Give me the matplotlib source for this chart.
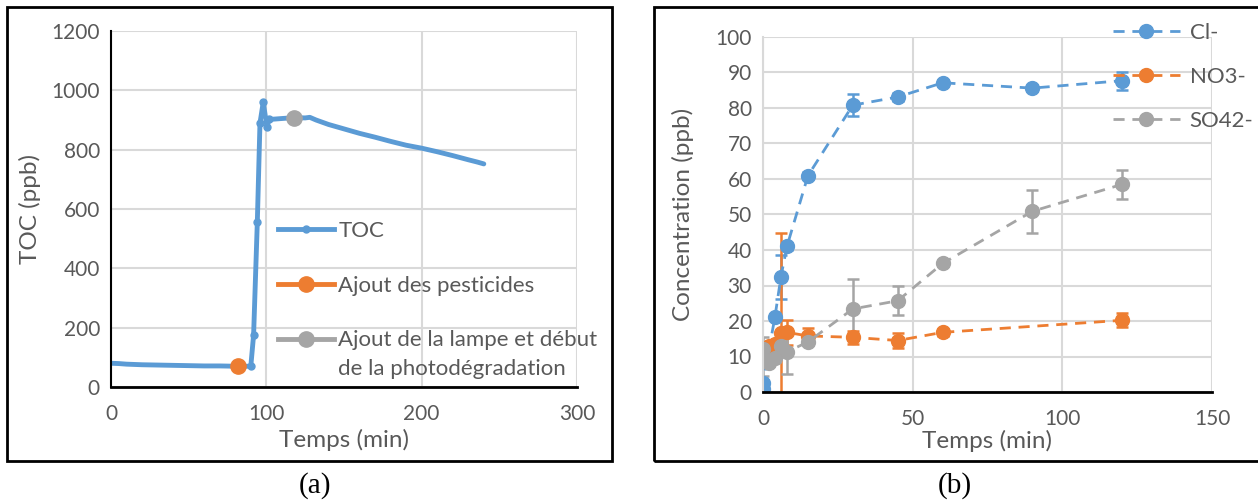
import matplotlib
matplotlib.use("Agg")
import matplotlib.pyplot as plt
from matplotlib.patches import Rectangle
from matplotlib.lines import Line2D

plt.rcParams['font.family'] = ['Lato', 'DejaVu Sans']

# TOC data (min, ppb) -------------------------------------------------------
toc_time = [0, 5, 10, 20, 30, 40, 50, 60, 70, 80, 86, 90, 91.8, 94.2, 95.9, 98,
            100.4, 101.7, 105, 110, 118, 125, 128, 132, 140, 150, 160, 170, 180,
            190, 200, 210, 220, 230, 236, 240]
toc_value = [80, 79, 77, 75, 74, 73, 72, 71, 71, 70, 70, 70, 175, 557, 889, 960,
             877, 902, 903, 905, 908, 907, 909, 900, 885, 870, 855, 842, 828,
             815, 805, 793, 780, 766, 758, 752]
pest_time, pest_value = [82], [70]
lamp_time, lamp_value = [118], [908]

# Ion data (min, ppb) -------------------------------------------------------
cl_time = [0, 0, 4, 6, 8, 15, 30, 45, 60, 90, 120]
cl_value = [0.8, 2.6, 21.2, 32.5, 41.0, 60.9, 80.8, 83.1, 87.1, 85.6, 87.7]
cl_err = [0.5, 0.5, 0.8, 6.2, 1.0, 1.0, 3.1, 1.0, 0.8, 0.8, 2.5]

no3_time = [0, 2, 4, 6, 8, 15, 30, 45, 60, 120]
no3_value = [12.0, 13.0, 13.5, 16.5, 16.8, 15.8, 15.4, 14.5, 16.8, 20.2]
no3_err = [1.0, 1.0, 1.0, 28.2, 3.5, 2.3, 1.8, 2.1, 1.0, 2.0]

so4_time = [0, 0, 2, 4, 6, 8, 15, 30, 45, 60, 90, 120]
so4_value = [12.0, 9.9, 8.2, 9.5, 12.9, 11.3, 14.1, 23.4, 25.7, 36.2, 50.9, 58.5]
so4_err = [1.0, 5.5, 1.0, 1.0, 1.0, 6.1, 1.0, 8.4, 4.1, 0.8, 6.0, 4.1]

blue = '#5B9BD5'
orange = '#ED7D31'
gray = '#A5A5A5'
txt = '#595959'
grid_c = '#D9D9D9'
W, H = 1258, 503

fig = plt.figure(figsize=(12.58, 5.03), dpi=100)

# frames round each panel
fig.patches.append(Rectangle((7 / W, 1 - 461 / H), 605 / W, 454 / H,
                             transform=fig.transFigure, fill=False, lw=2, ec='black'))
fig.patches.append(Rectangle((654 / W, 1 - 461 / H), 620 / W, 454 / H,
                             transform=fig.transFigure, fill=False, lw=2, ec='black'))


def style_axes(ax, left_black):
    ax.grid(True, color=grid_c, lw=1.5)
    ax.set_axisbelow(True)
    for s in ['top', 'right']:
        ax.spines[s].set_visible(False)
    ax.spines['bottom'].set_color('black')
    ax.spines['bottom'].set_linewidth(2)
    ax.spines['left'].set_color('black' if left_black else grid_c)
    ax.spines['left'].set_linewidth(1.5)
    ax.tick_params(length=0, labelsize=15, colors=txt, pad=8)
    ax.tick_params(axis='x', pad=12)


# (a) TOC ------------------------------------------------------------------
ax1 = fig.add_axes([111 / W, 1 - 387 / H, 466 / W, 356 / H])
# dense data: dots only show up on the steep part
ax1.plot(toc_time, toc_value, color=blue, lw=3.5, solid_capstyle='round',
         solid_joinstyle='round')
ax1.plot(toc_time[11:18], toc_value[11:18], ls='none', color=blue, marker='o', ms=5)
ax1.plot(pest_time, pest_value, color=orange, ls='none', marker='o', ms=11, zorder=5)
ax1.plot(lamp_time, lamp_value, color=gray, ls='none', marker='o', ms=11, zorder=5)
ax1.set_xlim(0, 300)
ax1.set_ylim(0, 1200)
ax1.set_xticks([0, 100, 200, 300])
ax1.set_yticks(range(0, 1201, 200))
style_axes(ax1, True)
ax1.set_xlabel('Temps (min)', fontsize=17.5, color=txt)
ax1.set_ylabel('TOC (ppb)', fontsize=17.5, color=txt)
ax1.xaxis.set_label_coords(0.5, -0.118)
ax1.yaxis.set_label_coords(-0.150, 0.5)

h1 = [Line2D([], [], color=blue, lw=3.5, marker='o', ms=5),
      Line2D([], [], color=orange, lw=3.5, marker='o', ms=11),
      Line2D([], [], color=gray, lw=3.5, marker='o', ms=11)]
ax1.legend(h1, ['TOC', 'Ajout des pesticides', 'Ajout de la lampe et début'],
           loc='upper left', bbox_to_anchor=(278 / W, 1 - 221 / H),
           bbox_transform=fig.transFigure, frameon=False, fontsize=16,
           handlelength=2.5, handletextpad=0.22, labelspacing=1.56,
           borderpad=0, borderaxespad=0, labelcolor=txt)
fig.text(338 / W, 1 - 369 / H, 'de la photodégradation', fontsize=16,
         color=txt, ha='left', va='center')

# (b) ions -----------------------------------------------------------------
ax2 = fig.add_axes([763 / W, 1 - 392 / H, 449 / W, 355 / H])
ebkw = dict(lw=2, ls=(0, (4, 2.8)), marker='o', ms=10, elinewidth=1.8,
            capsize=4.5, capthick=1.8)
ax2.errorbar(cl_time, cl_value, yerr=cl_err, color=blue, **ebkw)
ax2.errorbar(no3_time, no3_value, yerr=no3_err, color=orange, **ebkw)
ax2.errorbar(so4_time, so4_value, yerr=so4_err, color=gray, **ebkw)
ax2.set_xlim(0, 150)
ax2.set_ylim(0, 100)
ax2.set_xticks([0, 50, 100, 150])
ax2.set_yticks(range(0, 101, 10))
style_axes(ax2, False)
ax2.set_xlabel('Temps (min)', fontsize=17.5, color=txt)
ax2.set_ylabel('Concentration (ppb)', fontsize=17.5, color=txt)
ax2.xaxis.set_label_coords(0.5, -0.107)
ax2.yaxis.set_label_coords(-0.154, 0.5)

h2 = [Line2D([], [], color=c, lw=2, ls=(0, (4, 2.8)), marker='o', ms=10)
      for c in (blue, orange, gray)]
ax2.legend(h2, ['Cl-', 'NO3-', 'SO42-'], loc='upper left',
           bbox_to_anchor=(1113 / W, 1 - 23 / H),
           bbox_transform=fig.transFigure, frameon=False, fontsize=16,
           handlelength=3.0, handletextpad=0.45, labelspacing=1.07,
           borderpad=0, borderaxespad=0, labelcolor=txt)

# panel letters
fig.text(315 / W, 1 - 486 / H, '(a)', ha='center', va='center',
         fontsize=21, family='Liberation Serif')
fig.text(955 / W, 1 - 486 / H, '(b)', ha='center', va='center',
         fontsize=21, family='Liberation Serif')

fig.savefig('out.png', dpi=100)
